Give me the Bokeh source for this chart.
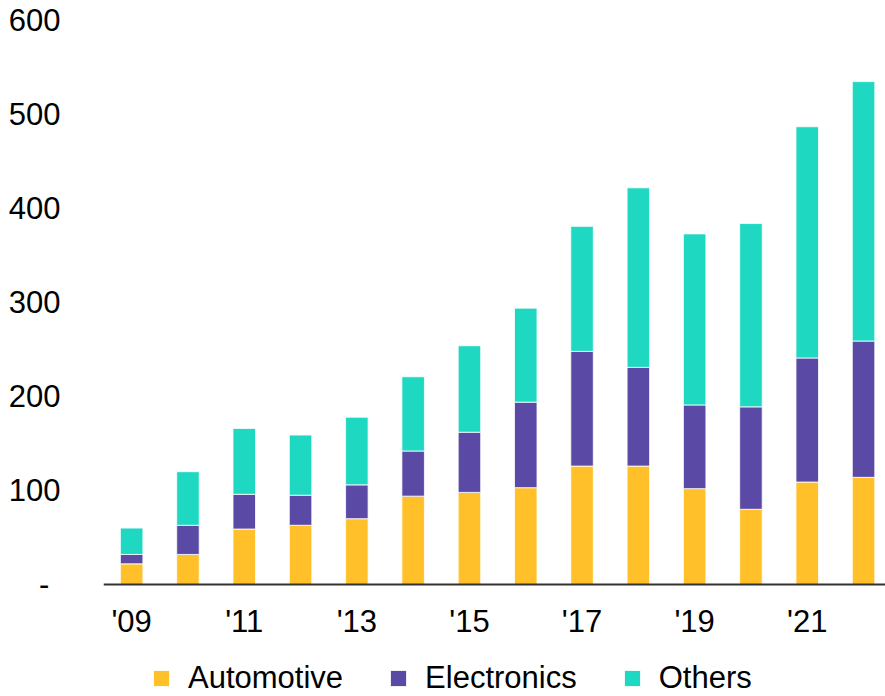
from bokeh.plotting import figure
from bokeh.models import ColumnDataSource, Range1d, FixedTicker, Legend, LegendItem, LinearAxis
from bokeh.embed import file_html
from bokeh.resources import INLINE

years = [2009, 2010, 2011, 2012, 2013, 2014, 2015, 2016, 2017, 2018, 2019, 2020, 2021, 2022]
automotive = [22, 32, 59, 63, 70, 94, 98, 103, 126, 126, 102, 80, 109, 114]
electronics = [10, 31, 37, 32, 36, 48, 64, 91, 122, 105, 89, 109, 132, 145]
others = [28, 57, 70, 64, 72, 79, 92, 100, 133, 191, 182, 195, 246, 276]
series = ["Automotive", "Electronics", "Others"]
colors = ["#FFC02A", "#5A4AA6", "#1ED8C1"]
x_ticks = [2009, 2011, 2013, 2015, 2017, 2019, 2021]
x_tick_labels = ["'09", "'11", "'13", "'15", "'17", "'19", "'21"]
y_ticks = [0, 100, 200, 300, 400, 500, 600]
y_tick_labels = ["-\u2008\u200a", "100", "200", "300", "400", "500", "600"]

source = ColumnDataSource(dict(year=years, Automotive=automotive,
                               Electronics=electronics, Others=others))

FONT = "Liberation Sans"

p = figure(width=885, height=696, output_backend="svg", toolbar_location=None,
           x_range=Range1d(2008.5, 2022.39), y_range=Range1d(-119.15, 621.3),
           x_axis_location=None,
           min_border_left=103, min_border_right=0, min_border_top=0,
           min_border_bottom=0)
p.outline_line_color = None
p.xgrid.visible = False
p.ygrid.visible = False
p.background_fill_color = "white"
p.border_fill_color = "white"

renderers = p.vbar_stack(series, x="year", width=0.4, color=colors,
                         line_color="white", line_width=0.8, source=source)

# x axis drawn at y = 0
xaxis = LinearAxis(fixed_location=0, ticker=FixedTicker(ticks=x_ticks))
xaxis.major_label_overrides = {t: l for t, l in zip(x_ticks, x_tick_labels)}
xaxis.axis_line_color = "#333333"
xaxis.axis_line_width = 2
xaxis.major_tick_line_color = None
xaxis.minor_tick_line_color = None
xaxis.major_label_text_font = FONT
xaxis.major_label_text_font_size = "31px"
xaxis.major_label_text_color = "black"
xaxis.major_label_standoff = 13
p.add_layout(xaxis, "below")

# y axis
p.yaxis.ticker = FixedTicker(ticks=y_ticks)
p.yaxis.major_label_overrides = {t: l for t, l in zip(y_ticks, y_tick_labels)}
p.yaxis.axis_line_color = None
p.yaxis.major_tick_line_color = None
p.yaxis.minor_tick_line_color = None
p.yaxis.major_label_text_font = FONT
p.yaxis.major_label_text_font_size = "31px"
p.yaxis.major_label_text_color = "black"
p.yaxis.major_label_standoff = 37

legend = Legend(items=[LegendItem(label=s, renderers=[r]) for s, r in zip(series, renderers)],
                orientation="horizontal", location=(48, 0),
                glyph_width=20, glyph_height=20, label_standoff=17, spacing=45,
                padding=0, margin=0, border_line_color=None,
                background_fill_alpha=0,
                label_text_font=FONT, label_text_font_size="31px",
                label_text_color="black")
p.add_layout(legend, "center")

open("out.html", "w").write(file_html(p, INLINE))
